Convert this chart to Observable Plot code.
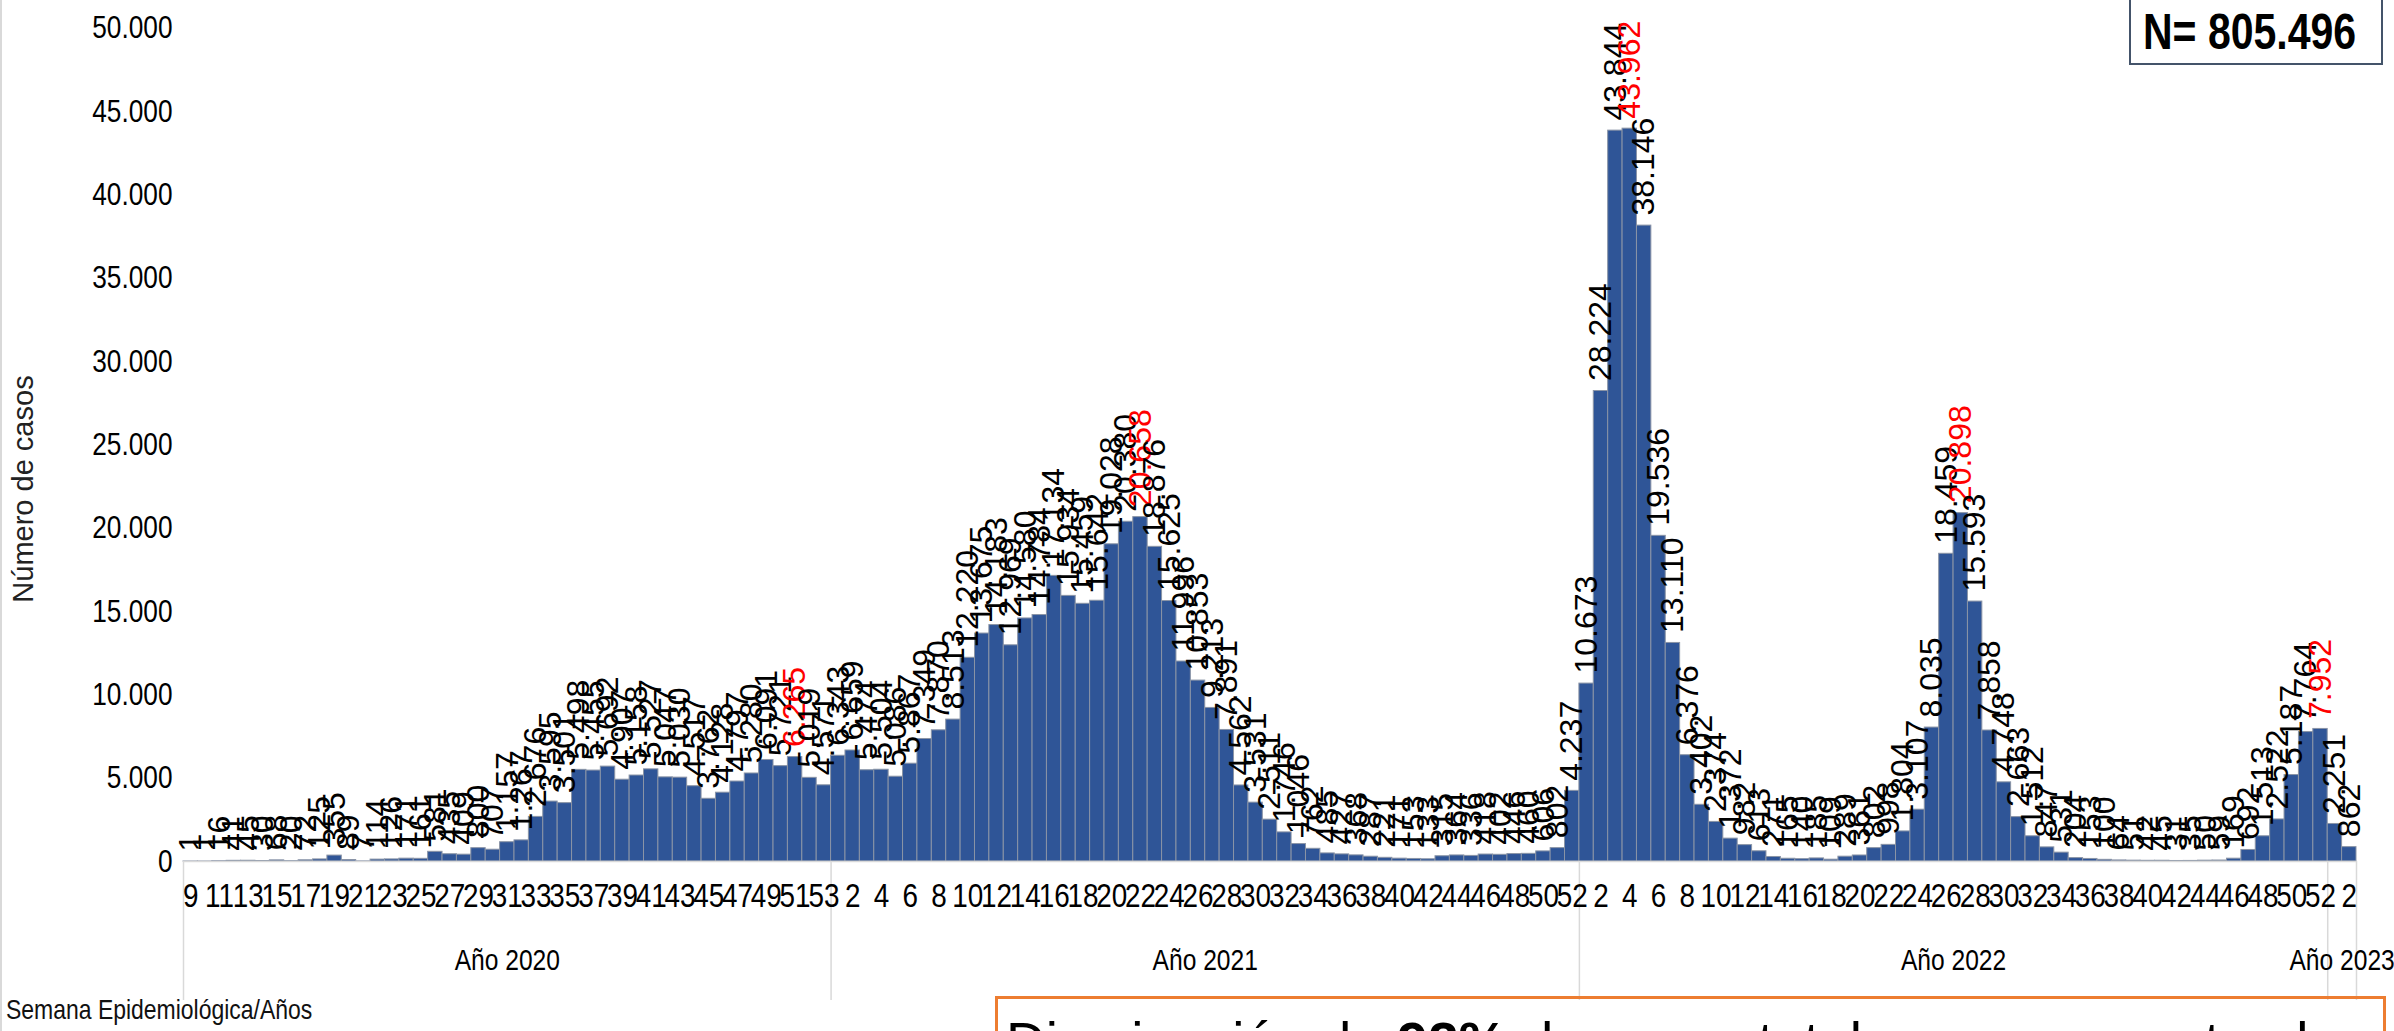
<!DOCTYPE html>
<html><head><meta charset="utf-8">
<script src="https://cdn.jsdelivr.net/npm/d3@7"></script>
<script src="https://cdn.jsdelivr.net/npm/@observablehq/plot@0.6"></script>
<style>
html,body{margin:0;padding:0;background:#fff;overflow:hidden;}
#wrap{position:relative;width:2394px;height:1031px;overflow:hidden;border-left:2px solid #d9d9d9;box-sizing:border-box;font-family:'Liberation Sans',Arial,sans-serif;}
#chart{position:absolute;left:-2px;top:0;}
.narrow{display:inline-block;transform-origin:left center;transform:scaleX(0.82);}
#ytitle{position:absolute;left:21px;top:489px;transform:translate(-50%,-50%) rotate(-90deg);font-size:29px;color:#222;white-space:nowrap;}
#xtitle{position:absolute;left:4px;top:994px;font-size:28px;color:#111;white-space:nowrap;}
#nbox{position:absolute;left:2127px;top:-3px;width:254px;height:68px;border:2px solid #44546a;box-sizing:border-box;}
#nbox span{position:absolute;left:12px;top:0;font-weight:bold;font-size:50px;line-height:66px;color:#000;white-space:nowrap;}
#caption{position:absolute;left:993px;top:996px;width:1391px;height:90px;border:3px solid #ed7d31;font-size:55px;line-height:62px;padding:12px 0 0 8px;box-sizing:border-box;color:#000;white-space:nowrap;}
</style></head><body>
<div id="wrap">
<div id="chart"></div>
<div id="ytitle">Número de casos</div>
<div id="xtitle" class="narrow">Semana Epidemiológica/Años</div>
<div id="nbox"><span class="narrow">N= 805.496</span></div>
<div id="caption">Disminución de <b>92%</b> de casos totales con respecto al</div>
</div>
<script>
// ---- data ----
const yearNames = ["Año 2020", "Año 2021", "Año 2022", "Año 2023"];
const weeks2020 = d3.range(9, 54);
const weeks2021 = d3.range(1, 53);
const weeks2022 = d3.range(1, 53);
const weeks2023 = [1, 2];
const cases2020 = [1,1,16,41,45,30,68,20,72,125,355,89,7,114,126,171,161,581,435,409,800,707,1157,1267,2676,3595,3501,5498,5455,5692,4907,5158,5527,5047,5030,4517,3762,4128,4797,5280,6091,5721,6265,5019,4571];
const cases2021 = [6343,6659,5474,5504,5086,5867,7349,7870,8513,12220,13675,14183,12969,14580,14784,17134,15934,15459,15642,19028,20380,20658,18876,15625,11996,10853,9213,7891,4562,3531,2511,1746,1046,762,485,427,368,287,221,171,153,133,315,364,336,418,402,446,460,606,802,4237];
const cases2022 = [10673,28224,43844,43962,38146,19536,13110,6376,3402,2374,1372,982,613,271,165,140,185,109,289,361,802,998,1804,3107,8035,18459,20898,15593,7858,4748,2663,1512,847,531,204,153,100,64,51,42,45,31,35,50,59,169,692,1513,2522,5187,7764,7952];
const cases2023 = [2251, 862];
const peaks = [["Año 2020", 51], ["Año 2021", 22], ["Año 2022", 4], ["Año 2022", 27], ["Año 2022", 52]];
const yTicks = [0,5000,10000,15000,20000,25000,30000,35000,40000,45000,50000];

// ---- table ----
const series = [[weeks2020, cases2020], [weeks2021, cases2021], [weeks2022, cases2022], [weeks2023, cases2023]];
const rows = [];
series.forEach(([wk, vals], yi) => {
  wk.forEach((w, k) => rows.push({i: rows.length, year: yearNames[yi], week: w, value: vals[k],
    red: peaks.some(p => p[0] === yearNames[yi] && p[1] === w)}));
});
const n = rows.length;
const groups = yearNames.map(y => {
  const r = rows.filter(d => d.year === y);
  return {year: y, start: r[0].i, end: r[r.length - 1].i + 1};
});
const bounds = [0, ...groups.map(g => g.end)];
const tickPos = rows.filter(d => d.i % 2 === 0).map(d => d.i + 0.5);

const fmt = d3.formatLocale({decimal: ",", thousands: ".", grouping: [3], currency: ["", ""]}).format(",");
const font = "'Liberation Sans',Arial,sans-serif";

const chart = Plot.plot({
  width: 2394, height: 1031,
  marginLeft: 183, marginRight: 38, marginTop: 27.5, marginBottom: 170,
  style: {fontFamily: font, fontSize: "32px", background: "transparent", color: "#000"},
  x: {type: "linear", domain: [0, n], axis: null},
  y: {domain: [0, 50000], axis: null},
  marks: [
    Plot.rectY(rows, {x1: "i", x2: d => d.i + 1, y: "value", fill: "#2f5597", stroke: "#8a94a6", strokeWidth: 1}),
    Plot.ruleY([0], {stroke: "#d9d9d9", strokeWidth: 1.5}),
    Plot.ruleX(bounds, {stroke: "#d9d9d9", strokeWidth: 1.5, insetTop: 833.5, insetBottom: -139}),
    Plot.axisY({ticks: yTicks, tickSize: 0, tickPadding: 11, tickFormat: fmt, label: null, fontSize: 32, fill: "#000"}),
    Plot.axisX({ticks: tickPos, tickSize: 0, tickPadding: 21, tickFormat: d => rows[Math.floor(d)].week, label: null, fontSize: 34, fill: "#000"}),
    Plot.text(rows, {x: d => d.i + 0.5, y: "value", text: d => fmt(d.value), rotate: -90, textAnchor: "start", lineAnchor: "middle", dy: -10,
      fill: d => d.red ? "#ff0000" : "#000000", fontSize: 32}),
    Plot.text(groups, {x: d => (d.start + d.end) / 2, text: "year", frameAnchor: "bottom", dy: 108, fontSize: 30, fill: "#000"})
  ]
});
document.getElementById("chart").appendChild(chart);

// narrow (Arial Narrow-like) rendering of axis and category texts:
// append a horizontal squeeze around each text's own anchor point
function narrowText(el) {
  const t = el.getAttribute("transform") || "";
  const xa = el.getAttribute("x");
  if (xa !== null && /^-?[\d.]+$/.test(xa.trim())) el.setAttribute("x", parseFloat(xa) / 0.82);
  el.setAttribute("transform", `${t} scale(0.82,1)`);
}
const svg = d3.select(chart);
svg.selectAll('g[aria-label="x-axis tick label"] text').each(function() { narrowText(this); });
svg.selectAll('g[aria-label="y-axis tick label"] text').each(function() { narrowText(this); });
svg.selectAll("text").filter(function() { return yearNames.includes(this.textContent); }).each(function() { narrowText(this); });
</script>
</body></html>
